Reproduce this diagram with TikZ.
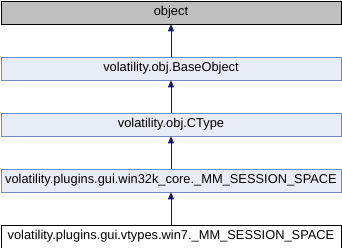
\documentclass[tikz,border=0pt]{standalone}
\usepackage{fontspec}
\setmainfont{Liberation Sans}
\usetikzlibrary{arrows.meta}
\definecolor{boxedge}{HTML}{6C8EBF}
\definecolor{boxfill}{HTML}{E8ECF5}
\definecolor{rootfill}{HTML}{BFBFBF}
\definecolor{linkcol}{HTML}{191970}
\begin{document}
\begin{tikzpicture}[x=1bp,y=-1bp,
  classbox/.style={draw=boxedge, fill=boxfill, line width=0.8bp, minimum width=340bp, minimum height=23bp, inner sep=0pt, font=\fontsize{12.9}{14}\selectfont, anchor=north},
  rootbox/.style={classbox, draw=black, fill=rootfill},
  leafbox/.style={classbox, draw=black, fill=white},
  inherit/.style={draw=linkcol, line width=0.8bp, -{Triangle[width=6bp,length=7bp]}}]
  \useasboundingbox (0,0) rectangle (342,248);
  \node[rootbox]  (obj)  at (171,0.5)   {object};
  \node[classbox] (base) at (171,56.5)  {volatility.obj.BaseObject};
  \node[classbox] (ctype) at (171,112.5) {volatility.obj.CType};
  \node[classbox] (core) at (171,168.5) {volatility.plugins.gui.win32k\_core.\_MM\_SESSION\_SPACE};
  \node[leafbox]  (win7) at (171,224.5) {volatility.plugins.gui.vtypes.win7.\_MM\_SESSION\_SPACE};
  \draw[inherit] (base) -- (obj);
  \draw[inherit] (ctype) -- (base);
  \draw[inherit] (core) -- (ctype);
  \draw[inherit] (win7) -- (core);
\end{tikzpicture}
\end{document}
